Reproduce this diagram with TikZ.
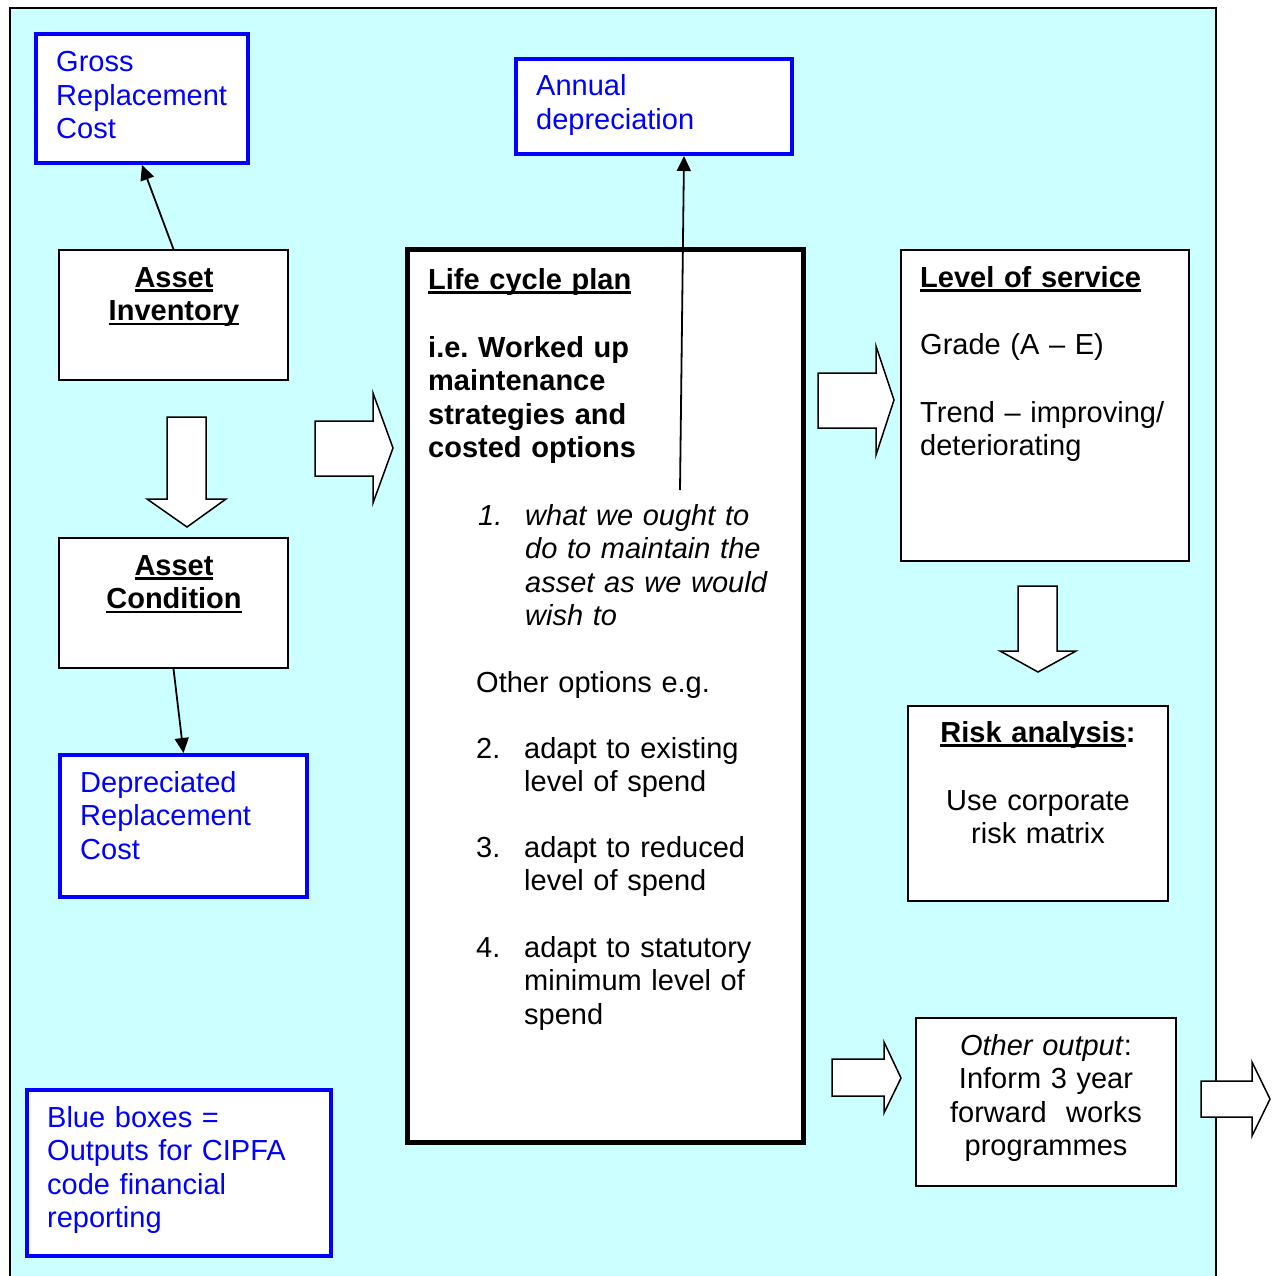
\documentclass[tikz,border=0pt]{standalone}
\usepackage{fontspec}
\setmainfont{Liberation Sans}
\usetikzlibrary{arrows.meta}
\definecolor{bgc}{RGB}{204,255,255}
\definecolor{bl}{RGB}{0,0,255}
\frenchspacing
\newcommand\myfs{\fontsize{29}{33.5}\selectfont}
\newsavebox\myulbox
\newcommand\myul[1]{\leavevmode\sbox\myulbox{#1}\rlap{\rule[-4.5pt]{\wd\myulbox}{2.5pt}}\usebox\myulbox}
\begin{document}
\begin{tikzpicture}[x=1pt,y=-1pt,
  box/.style={draw=black, line width=1.5pt, fill=white, inner sep=0pt},
  bbox/.style={draw=bl, line width=4pt, fill=white, inner sep=0pt},
  lt/.style={inner sep=0pt, anchor=base west, font=\myfs, align=left, text width=#1},
  ct/.style={inner sep=0pt, anchor=base, font=\myfs, align=center, text width=#1},
  blk/.style={draw=black, line width=1.5pt, fill=white, line join=miter},
  arr/.style={line width=1.8pt, -{Triangle[length=15pt,width=14pt]}}]
\useasboundingbox (0,0) rectangle (1279,1276);
% background
\fill[bgc] (10,8) rectangle (1216,1290);
\draw[line width=1.5pt] (10,1290) -- (10,8) -- (1216,8) -- (1216,1290);
% boxes
\node[bbox, minimum width=212pt, minimum height=129pt] (grc) at (142,98.5) {};
\node[box, minimum width=229pt, minimum height=130pt] (inv) at (173.5,315) {};
\node[box, minimum width=229pt, minimum height=130pt] (cond) at (173.5,603) {};
\node[bbox, minimum width=247pt, minimum height=142pt] (drc) at (183.5,826) {};
\node[bbox, minimum width=276pt, minimum height=95pt] (ann) at (654,106.5) {};
\node[box, line width=5pt, minimum width=396pt, minimum height=893pt] (lcp) at (605,695.5) {};
\node[box, minimum width=288pt, minimum height=311pt] (los) at (1045,405.5) {};
\node[box, minimum width=260pt, minimum height=195pt] (risk) at (1038,803.5) {};
\node[box, minimum width=260pt, minimum height=168pt] (oth) at (1046,1102) {};
\node[bbox, minimum width=304pt, minimum height=166pt] (leg) at (179,1173) {};
% block arrows
\draw[blk] (315,421) -- (373,421) -- (373,393) -- (393,448) -- (373,503) -- (373,476) -- (315,476) -- cycle;
\draw[blk] (818,373) -- (876,373) -- (876,346) -- (894,400) -- (876,455) -- (876,428) -- (818,428) -- cycle;
\draw[blk] (832,1059) -- (884,1059) -- (884,1042) -- (901,1078) -- (884,1113) -- (884,1096) -- (832,1096) -- cycle;
\draw[blk] (1201,1081) -- (1252,1081) -- (1252,1062) -- (1270,1099) -- (1252,1136) -- (1252,1117) -- (1201,1117) -- cycle;
\draw[blk] (167,417) -- (206,417) -- (206,499) -- (226,499) -- (187,527) -- (147,499) -- (167,499) -- cycle;
\draw[blk] (1018,586) -- (1057,586) -- (1057,651) -- (1076,651) -- (1038,672) -- (1000,651) -- (1018,651) -- cycle;
% connectors
\draw[arr] (inv.north) -- (grc.south);
\draw[arr] (cond.south) -- (drc.north);
\coordinate (ls) at (680,490);
\draw[arr] (ls) -- ([xshift=30pt]ann.south);
% texts
\node[lt=220pt, text=bl] (tgrc) at (56,72) {Gross\\Replacement\\Cost};
\node[ct=229pt, font=\myfs\bfseries] (tinv) at (174,287) {\myul{Asset}\\\myul{Inventory}};
\node[ct=229pt, font=\myfs\bfseries] (tcond) at (174,575) {\myul{Asset}\\\myul{Condition}};
\node[lt=240pt, text=bl] (tdrc) at (80,792) {Depreciated\\Replacement\\Cost};
\node[lt=250pt, text=bl] (tann) at (536,96) {Annual\\depreciation};
\node[lt=330pt, font=\myfs\bfseries] (tlcp) at (428,289) {\myul{Life cycle plan}};
\node[lt=330pt, font=\myfs\bfseries] (tie) at (428,357) {i.e. Worked up\\maintenance\\strategies and\\costed options};
\node[lt=40pt, font=\myfs\itshape] (n1) at (478,525) {1.};
\node[lt=260pt, font=\myfs\itshape] (i1) at (525,525) {what we ought to\\do to maintain the\\asset as we would\\wish to};
\node[lt=300pt] (topt) at (476,692) {Other options e.g.};
\node[lt=40pt] (n2) at (476,758) {2.};
\node[lt=260pt] (i2) at (524,758) {adapt to existing\\level of spend};
\node[lt=40pt] (n3) at (476,857) {3.};
\node[lt=260pt] (i3) at (524,857) {adapt to reduced\\level of spend};
\node[lt=40pt] (n4) at (476,957) {4.};
\node[lt=260pt] (i4) at (524,957) {adapt to statutory\\minimum level of\\spend};
\node[lt=260pt, font=\myfs\bfseries] (tlos) at (920,287) {\myul{Level of service}};
\node[lt=260pt] (tgrade) at (920,354) {Grade (A – E)};
\node[lt=260pt] (ttrend) at (920,422) {Trend – improving/\\deteriorating};
\node[ct=250pt] (trisk) at (1038,742) {\textbf{\myul{Risk analysis}:}};
\node[ct=250pt] (tuse) at (1038,810) {Use corporate\\risk matrix};
\node[ct=250pt] (toth) at (1046,1055) {\textit{Other output}:\\Inform 3 year\\forward~~works\\programmes};
\node[lt=290pt, text=bl] (tleg) at (47,1127) {Blue boxes =\\Outputs for CIPFA\\code financial\\reporting};
\end{tikzpicture}
\end{document}
